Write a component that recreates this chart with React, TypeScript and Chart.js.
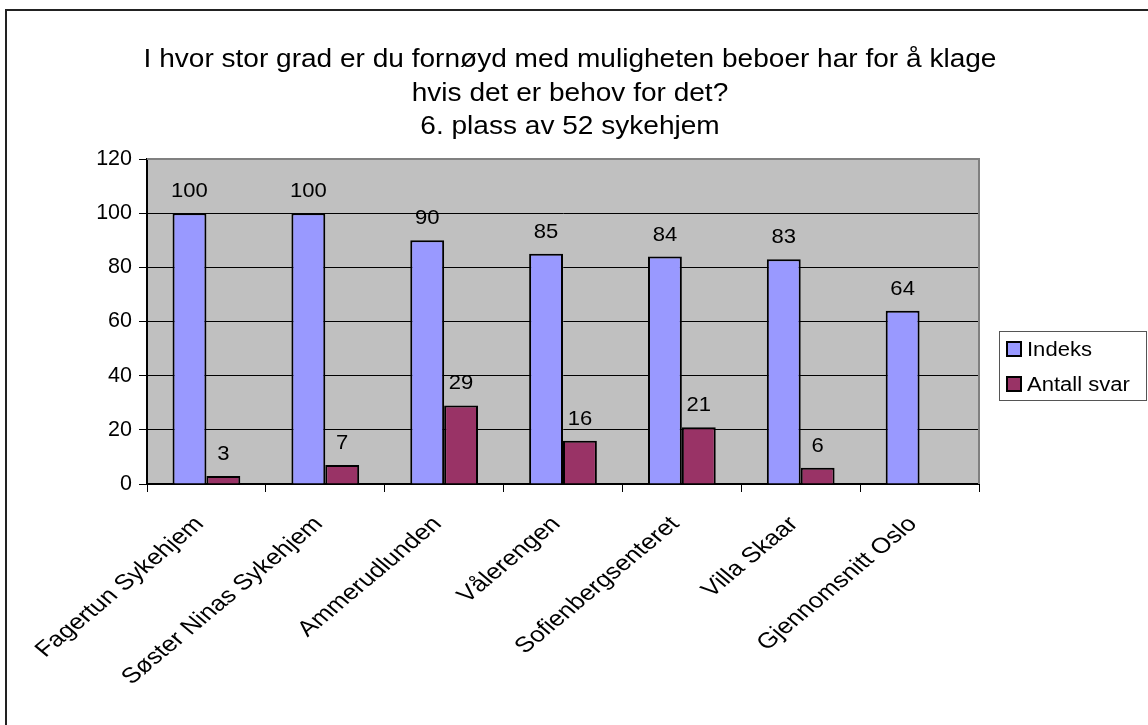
import React, { useEffect, useRef } from "react";
import { Chart, registerables } from "chart.js";

Chart.register(...registerables);

const titleLines = [
  "I hvor stor grad er du fornøyd med muligheten beboer har for å klage",
  "hvis det er behov for det?",
  "6. plass av 52 sykehjem",
];
const categories = [
  "Fagertun Sykehjem",
  "Søster Ninas Sykehjem",
  "Ammerudlunden",
  "Vålerengen",
  "Sofienbergsenteret",
  "Villa Skaar",
  "Gjennomsnitt Oslo",
];
const indeks = [100, 100, 90, 85, 84, 83, 64];
const antallSvar = [3, 7, 29, 16, 21, 6, null];
const seriesNames = ["Indeks", "Antall svar"];
const seriesColors = ["#9999FF", "#993366"];
const yMin = 0;
const yMax = 120;
const yStep = 20;

const FONT = "'Liberation Sans', Arial, Helvetica, sans-serif";

export default function App() {
  const ref = useRef<HTMLCanvasElement | null>(null);

  useEffect(() => {
    const canvas = ref.current;
    if (!canvas) return;

    const bgPlugin = {
      id: "bgPlugin",
      beforeDraw(chart: any) {
        const { ctx, chartArea } = chart;
        ctx.save();
        ctx.fillStyle = "#FFFFFF";
        ctx.fillRect(0, 0, chart.width, chart.height);
        ctx.fillStyle = "#C0C0C0";
        ctx.fillRect(chartArea.left, chartArea.top, chartArea.right - chartArea.left, chartArea.bottom - chartArea.top);
        ctx.restore();
      },
    };

    const labelPlugin = {
      id: "labelPlugin",
      afterDatasetsDraw(chart: any) {
        const { ctx } = chart;
        ctx.save();
        ctx.font = `21px ${FONT}`;
        ctx.fillStyle = "#000";
        ctx.textAlign = "center";
        ctx.textBaseline = "alphabetic";
        chart.data.datasets.forEach((ds: any, i: number) => {
          const meta = chart.getDatasetMeta(i);
          meta.data.forEach((el: any, j: number) => {
            const v = ds.data[j];
            if (v === null || v === undefined) return;
            ctx.save();
            ctx.translate(el.x, el.y - 16);
            ctx.scale(1.05, 1);
            ctx.fillText(String(v), 0, 0);
            ctx.restore();
          });
        });
        ctx.restore();
      },
    };

    const decoPlugin = {
      id: "decoPlugin",
      afterDraw(chart: any) {
        const { ctx, chartArea } = chart;
        ctx.save();
        // plot area border (top, right)
        ctx.strokeStyle = "#808080";
        ctx.lineWidth = 2;
        ctx.beginPath();
        ctx.moveTo(chartArea.left, chartArea.top);
        ctx.lineTo(chartArea.right, chartArea.top);
        ctx.lineTo(chartArea.right, chartArea.bottom);
        ctx.stroke();

        // outer frame
        ctx.strokeStyle = "#222";
        ctx.lineWidth = 2;
        ctx.strokeRect(6, 10, 1300, 900);

        // x category labels (rotated, stretched horizontally like the reference)
        const xs = chart.scales.x;
        ctx.fillStyle = "#000";
        ctx.font = `21.7px ${FONT}`;
        ctx.textAlign = "right";
        ctx.textBaseline = "alphabetic";
        categories.forEach((lab, i) => {
          const cx = xs.getPixelForTick(i);
          ctx.save();
          ctx.translate(cx - 1.5, chartArea.bottom + 41);
          ctx.scale(1.2, 1);
          ctx.rotate(-Math.PI / 4);
          ctx.fillText(lab, 0, 0);
          ctx.restore();
        });

        // title
        ctx.fillStyle = "#000";
        ctx.font = `25.5px ${FONT}`;
        ctx.textAlign = "center";
        ctx.textBaseline = "alphabetic";
        const baselines = [66.5, 100.5, 134];
        titleLines.forEach((line, i) => {
          ctx.save();
          ctx.translate(570, baselines[i]);
          ctx.scale(1.1, 1);
          ctx.fillText(line, 0, 0);
          ctx.restore();
        });

        // legend
        ctx.strokeStyle = "#555";
        ctx.lineWidth = 1;
        ctx.strokeRect(999.5, 331.5, 147, 69);
        const rowBase = [356, 391];
        seriesNames.forEach((name, i) => {
          const top = rowBase[i] - 15;
          ctx.fillStyle = seriesColors[i];
          ctx.fillRect(1006, top, 16, 16);
          ctx.strokeStyle = "#000";
          ctx.lineWidth = 2;
          ctx.strokeRect(1007, top + 1, 14, 14);
          ctx.fillStyle = "#000";
          ctx.font = `19.5px ${FONT}`;
          ctx.textAlign = "left";
          ctx.save();
          ctx.translate(1027, rowBase[i]);
          ctx.scale(1.13, 1);
          ctx.fillText(name, 0, 0);
          ctx.restore();
        });
        ctx.restore();
      },
    };

    const chart = new Chart(canvas, {
      type: "bar",
      data: {
        labels: categories,
        datasets: [
          {
            label: seriesNames[0],
            data: indeks,
            backgroundColor: seriesColors[0],
            borderColor: "#000",
            borderWidth: 2,
            categoryPercentage: 0.57,
            barPercentage: 1,
          },
          {
            label: seriesNames[1],
            data: antallSvar as any,
            backgroundColor: seriesColors[1],
            borderColor: "#000",
            borderWidth: 2,
            categoryPercentage: 0.57,
            barPercentage: 1,
          },
        ],
      },
      options: {
        responsive: false,
        animation: false,
        events: [],
        layout: { padding: { top: 159, right: 169, left: 0, bottom: 0 } },
        plugins: {
          legend: { display: false },
          title: { display: false },
          tooltip: { enabled: false },
        },
        scales: {
          x: {
            offset: true,
            grid: {
              display: true,
              offset: true,
              drawOnChartArea: false,
              drawTicks: true,
              tickLength: 8,
              color: "#000",
              lineWidth: 1,
            },
            border: { display: true, color: "#000", width: 2 },
            ticks: {
              autoSkip: false,
              minRotation: 45,
              maxRotation: 45,
              color: "rgba(0,0,0,0)",
              font: { family: FONT, size: 21 },
              padding: 4,
            },
            afterFit(scale: any) {
              scale.height = 241;
            },
          },
          y: {
            min: yMin,
            max: yMax,
            grid: {
              color: "#000",
              lineWidth: 1,
              tickLength: 8,
              drawTicks: true,
            },
            border: { display: true, color: "#000", width: 2 },
            ticks: {
              stepSize: yStep,
              color: "#000",
              padding: 7,
              font: { family: FONT, size: 21.5 },
            },
            afterFit(scale: any) {
              scale.width = 147;
            },
          },
        },
      },
      plugins: [bgPlugin, labelPlugin, decoPlugin],
    });

    return () => {
      chart.destroy();
    };
  }, []);

  return (
    <div style={{ position: "fixed", left: 0, top: 0, width: 1148, height: 725, background: "#fff" }}>
      <canvas ref={ref} width={1148} height={725} style={{ display: "block" }} />
    </div>
  );
}
